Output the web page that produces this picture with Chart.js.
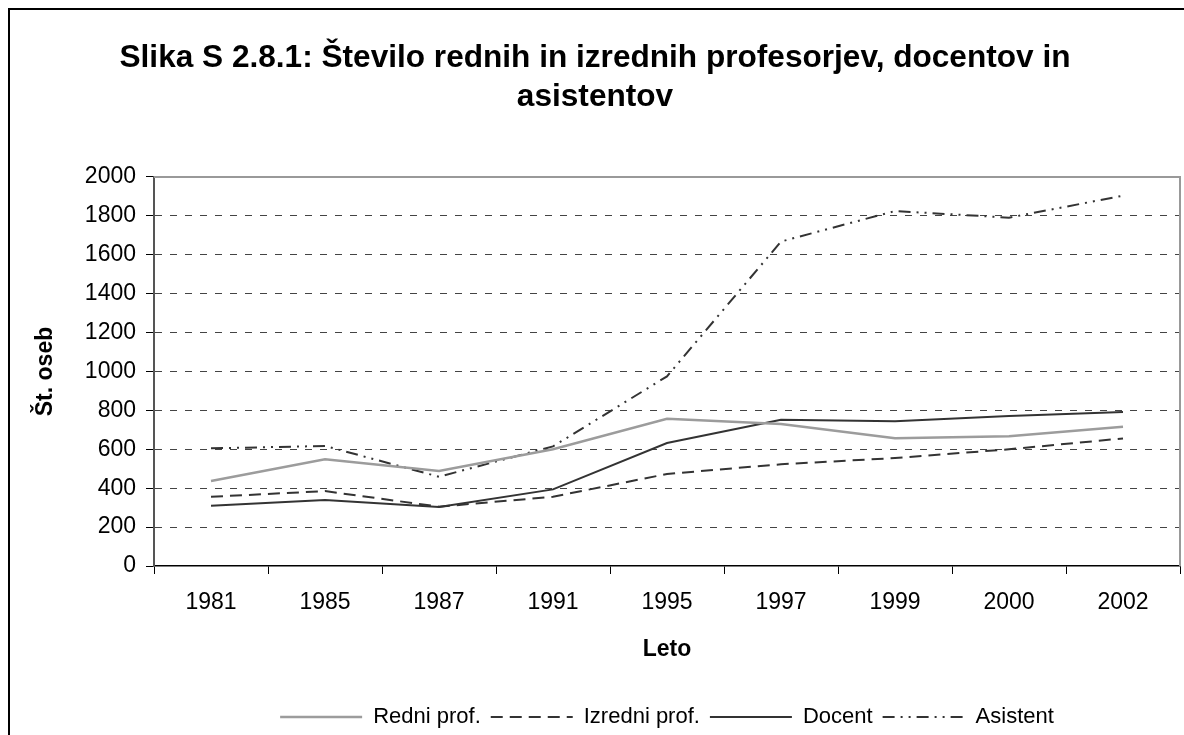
<!DOCTYPE html>
<html>
<head>
<meta charset="utf-8">
<script src="https://cdn.jsdelivr.net/npm/chart.js@4/dist/chart.umd.min.js"></script>
<style>
  html, body { margin: 0; padding: 0; background: #fff; }
  #wrap { width: 1184px; height: 735px; }
</style>
</head>
<body>
<div id="wrap"><canvas id="chart" width="1184" height="735"></canvas></div>
<script>
// leta in število oseb po nazivih
const years = ["1981", "1985", "1987", "1991", "1995", "1997", "1999", "2000", "2002"];
const redniProf = [437, 549, 488, 600, 757, 730, 657, 667, 716];
const izredniProf = [356, 385, 305, 356, 473, 523, 555, 600, 656];
const docent = [310, 339, 303, 394, 632, 752, 744, 771, 792];
const asistent = [605, 617, 459, 615, 975, 1668, 1825, 1791, 1904];

const yMin = 0;
const yMax = 2000;
const yStep = 200;

const FONT = "'Liberation Sans', Arial, sans-serif";

// bel ozadje, okvir slike in siv rob risalne površine
const frame = {
  id: "frame",
  afterLayout(chart) {
    // legenda je centrirana pod risalno površino
    const a = chart.chartArea;
    const lg = chart.legend;
    const shift = (a.left + a.right) / 2 - (lg.left + lg.right) / 2;
    lg.left += shift;
    lg.right += shift;
  },
  beforeDraw(chart) {
    const c = chart.ctx;
    c.save();
    c.fillStyle = "#fff";
    c.fillRect(0, 0, chart.width, chart.height);
    c.strokeStyle = "#000";
    c.lineWidth = 2;
    c.strokeRect(9, 9, chart.width + 20, chart.height + 20);
    c.restore();
  },
  beforeDatasetsDraw(chart) {
    const a = chart.chartArea;
    const c = chart.ctx;
    c.save();
    c.strokeStyle = "#999";
    c.lineWidth = 2;
    c.beginPath();
    c.moveTo(a.left, a.top);
    c.lineTo(a.right, a.top);
    c.lineTo(a.right, a.bottom);
    c.stroke();
    c.restore();
  }
};

function series(label, data, color, width, dash) {
  return {
    label: label,
    data: data,
    borderColor: color,
    backgroundColor: color,
    borderWidth: width,
    borderDash: dash,
    pointRadius: 0,
    tension: 0,
    fill: false
  };
}

// legenda s črtami v slogu posamezne serije
function legendLabels(chart) {
  const items = Chart.defaults.plugins.legend.labels.generateLabels(chart);
  items.forEach(item => {
    const ds = chart.data.datasets[item.datasetIndex];
    item.lineDash = ds.borderDash;
    item.strokeStyle = ds.borderColor;
    item.lineWidth = ds.borderWidth;
    item.pointStyle = "line";
  });
  return items;
}

const ctx = document.getElementById("chart").getContext("2d");
const chart = new Chart(ctx, {
  type: "line",
  data: {
    labels: years,
    datasets: [
      series("Redni prof.", redniProf, "#9c9c9c", 2.5, []),
      series("Izredni prof.", izredniProf, "#333", 2, [12, 7]),
      series("Docent", docent, "#333", 2, []),
      series("Asistent", asistent, "#333", 2, [12, 6, 2, 6, 2, 6])
    ]
  },
  options: {
    responsive: false,
    animation: false,
    layout: { padding: { left: 10, right: 4, top: 0, bottom: -3 } },
    plugins: {
      title: {
        display: true,
        text: ["Slika S 2.8.1: Število rednih in izrednih profesorjev, docentov in", "asistentov"],
        color: "#000",
        font: { family: FONT, size: 31.6, weight: "bold", lineHeight: 1.234 },
        padding: { top: 38.5, bottom: 60.5 }
      },
      legend: {
        position: "bottom",
        labels: {
          usePointStyle: true,
          pointStyle: "line",
          pointStyleWidth: 82,
          padding: 10,
          color: "#000",
          font: { family: FONT, size: 22 },
          generateLabels: legendLabels
        }
      },
      tooltip: { enabled: false }
    },
    scales: {
      x: {
        type: "category",
        offset: true,
        grid: {
          offset: true,
          drawOnChartArea: false,
          drawTicks: true,
          tickLength: 8,
          tickColor: "#000",
          tickWidth: 1
        },
        border: { display: true, color: "#000", width: 1.5 },
        ticks: {
          color: "#000",
          padding: 15,
          maxRotation: 0,
          autoSkip: false,
          font: { family: FONT, size: 23 }
        },
        title: {
          display: true,
          text: "Leto",
          color: "#000",
          font: { family: FONT, size: 23, weight: "bold" },
          padding: { top: 4.6, bottom: 32.2 }
        }
      },
      y: {
        min: yMin,
        max: yMax,
        afterFit(scale) { scale.width = 144; },
        grid: {
          color: c => (c.tick && (c.tick.value === yMin || c.tick.value === yMax)) ? "rgba(0,0,0,0)" : "#444",
          lineWidth: 1,
          tickLength: 8,
          tickColor: "#000",
          tickWidth: 1,
          tickBorderDash: []
        },
        border: { display: true, color: "#555", width: 2, dash: [7, 8] },
        ticks: {
          stepSize: yStep,
          color: "#000",
          padding: 10,
          font: { family: FONT, size: 23 },
          callback: v => String(v)
        },
        title: {
          display: true,
          text: "Št. oseb",
          color: "#000",
          font: { family: FONT, size: 23, weight: "bold" },
          padding: { top: 22, bottom: 0 }
        }
      }
    }
  },
  plugins: [frame]
});
</script>
</body>
</html>
